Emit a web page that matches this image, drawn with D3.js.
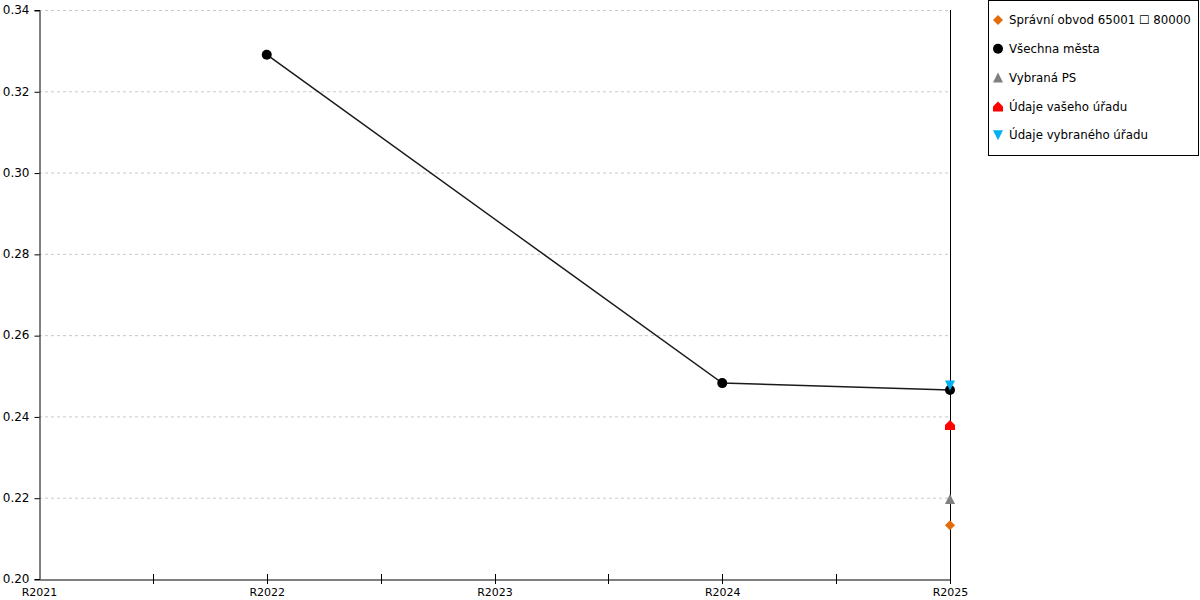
<!DOCTYPE html>
<html><head><meta charset="utf-8">
<script src="https://cdn.jsdelivr.net/npm/d3@7"></script>
<style>body{margin:0;background:#fff}svg{display:block;font-family:"DejaVu Sans",Verdana,sans-serif}</style>
</head><body><svg id="c" width="1200" height="600"></svg>
<script>
const years = ["R2021","R2022","R2023","R2024","R2025"];
const yTicks = [0.20,0.22,0.24,0.26,0.28,0.30,0.32,0.34];
const allCitiesYears = ["R2022","R2024","R2025"];
const allCitiesValues = [0.3290,0.2482,0.2465];
const pointYear = "R2025";
const seriesNames = ["Správní obvod 65001 \u2610 80000","Všechna města","Vybraná PS","Údaje vašeho úřadu","Údaje vybraného úřadu"];
const seriesColors = ["#e36c0a","#000000","#808080","#ff0000","#00b0f0"];
const seriesSymbols = ["diamond","circle","triangle","house","triangleDown"];
const pointValues = [0.2132,0.2465,0.2197,0.2379,0.2476];

const svg = d3.select("#c");
const m = {l:39, r:950, t:10, b:579};
const x = d3.scalePoint().domain(years).range([m.l,m.r]);
const y = d3.scaleLinear().domain([0.20,0.34]).range([m.b,m.t]);

// grid
svg.append("g").selectAll("line").data(yTicks.slice(1)).join("line")
  .attr("x1",m.l).attr("x2",m.r).attr("y1",d=>y(d)+0.5).attr("y2",d=>y(d)+0.5)
  .attr("stroke","#c8c8c8").attr("stroke-dasharray","3,3");

// y axis
const ya = svg.append("g").attr("transform",`translate(${m.l+0.5},0)`)
  .call(d3.axisLeft(y).tickValues(yTicks).tickFormat(d3.format(".2f")).tickSizeOuter(0).tickSize(5));
ya.select(".domain").attr("stroke","#000");
ya.selectAll(".tick line").attr("stroke","#000").attr("transform","translate(0,0.5)");
ya.selectAll("text").attr("font-size",12).attr("fill","#000").attr("dx","-2").attr("font-family","DejaVu Sans, Verdana, sans-serif");

// x axis
const xa = svg.append("g").attr("transform",`translate(0,${m.b+0.5})`)
  .call(d3.axisBottom(x).tickSizeOuter(0).tickSize(0));
xa.select(".domain").attr("stroke","#000");
xa.selectAll("text").attr("font-size",11).attr("fill","#000").attr("y",9).attr("dy","0.71em").attr("font-family","DejaVu Sans, Verdana, sans-serif");
// tick marks crossing axis (full and half years)
const half = [];
for(let i=0;i<years.length;i++){ half.push(x(years[i])); if(i<years.length-1) half.push((x(years[i])+x(years[i+1]))/2); }
svg.append("g").selectAll("line").data(half.slice(1,-1)).join("line")
  .attr("x1",d=>Math.round(d)+0.5).attr("x2",d=>Math.round(d)+0.5).attr("y1",m.b-5).attr("y2",m.b+5).attr("stroke","#000");

// vertical line at last year
svg.append("line").attr("x1",x(pointYear)+0.5).attr("x2",x(pointYear)+0.5).attr("y1",m.t).attr("y2",m.b+5).attr("stroke","#000");

// line
svg.append("path").datum(allCitiesYears.map((d,i)=>[x(d),y(allCitiesValues[i])]))
  .attr("d",d3.line()).attr("fill","none").attr("stroke","#1a1a1a").attr("stroke-width",1.5);

function sym(g,type,cx,cy,color){
  if(type==="circle") g.append("circle").attr("cx",cx).attr("cy",cy).attr("r",5).attr("fill",color);
  else if(type==="diamond") g.append("path").attr("d",`M${cx},${cy-5}L${cx+5},${cy}L${cx},${cy+5}L${cx-5},${cy}Z`).attr("fill",color);
  else if(type==="triangle") g.append("path").attr("d",`M${cx},${cy-5}L${cx+5},${cy+5}L${cx-5},${cy+5}Z`).attr("fill",color);
  else if(type==="triangleDown") g.append("path").attr("d",`M${cx-5},${cy-5}L${cx+5},${cy-5}L${cx},${cy+5}Z`).attr("fill",color);
  else if(type==="house") g.append("path").attr("d",`M${cx},${cy-5}L${cx+5},${cy}L${cx+5},${cy+5}L${cx-5},${cy+5}L${cx-5},${cy}Z`).attr("fill",color);
}
const pts = svg.append("g");
allCitiesYears.forEach((d,i)=>{ if(d!==pointYear) sym(pts,"circle",x(d),y(allCitiesValues[i]),"#000"); });
[0,2,3,1,4].forEach(i=>sym(pts,seriesSymbols[i],x(pointYear),y(pointValues[i]),seriesColors[i]));

// legend
const lg = svg.append("g");
lg.append("rect").attr("x",988.5).attr("y",0.5).attr("width",210).attr("height",155).attr("fill","#fff").attr("stroke","#000");
seriesNames.forEach((n,i)=>{
  const cy = 20 + i*28.8;
  sym(lg,seriesSymbols[i],998,cy,seriesColors[i]);
  lg.append("text").attr("x",1009).attr("y",cy).attr("dy","0.35em").attr("font-size",11.8).attr("fill","#000").text(n);
});
</script></body></html>
